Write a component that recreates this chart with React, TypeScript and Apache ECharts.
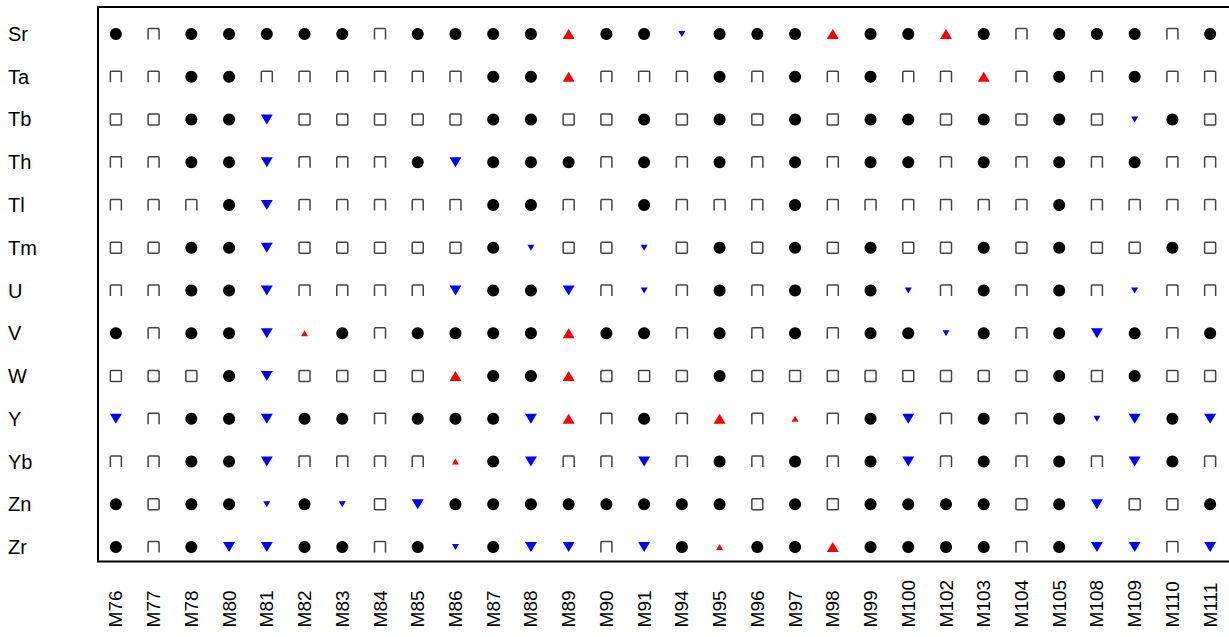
import React, { useEffect, useRef } from "react";
import * as echarts from "echarts";

const columns = ["M76","M77","M78","M80","M81","M82","M83","M84","M85","M86","M87","M88","M89","M90","M91","M94","M95","M96","M97","M98","M99","M100","M102","M103","M104","M105","M108","M109","M110","M111"];
const elements = ["Sr","Ta","Tb","Th","Tl","Tm","U","V","W","Y","Yb","Zn","Zr"];
// C = filled circle, S = open square, D = large blue down, d = small blue down, U = large red up, u = small red up
const cells = [
  "CSCCCCCSCCCCUCCdCCCUCCUCSCCCSC", // Sr
  "SSCCSSSSSSCCUSSSCSCSCSSUSCSCSS", // Ta
  "SSCCDSSSSSCCSSCSCSCSCCSCSCSdCS", // Tb
  "SSCCDSSSCDCCCSCSCSCSCCSCSCSCSS", // Th
  "SSSCDSSSSSCCSSCSSSCSSSSSSCSSSS", // Tl
  "SSCCDSSSSSCdSSdSCSCSCSSCSCSSCS", // Tm
  "SSCCDSSSSDCCDSdSCSCSCdSCSCSdSS", // U
  "CSCCDuCSCCCCUCCSCSCSCCdCSCDCSC", // V
  "SSSCDSSSSUCCUSSSCSSSSSSSSCSCSS", // W
  "DSCCDCCSCCCDUSCSUSuSCDSCSCdDCD", // Y
  "SSCCDSSSSuCDSSDSCSCSCDSCSCSDCS", // Yb
  "CSCCdCdSDCCCCCCCCSCSCCCCSCDSSC", // Zn
  "CSCDDCCSCdCDDSDCuCCUCCCCSCDDSD", // Zr
];

export default function App() {
  const ref = useRef<HTMLDivElement>(null);
  useEffect(() => {
    document.body.style.margin = "0";
    const chart = echarts.init(ref.current!, null, { renderer: "svg" });
    const buckets: Record<string, any[]> = { C: [], S: [], F: [], D: [], d: [], U: [], u: [] };
    cells.forEach((row, j) => {
      row.split("").forEach((code, i) => {
        let k = code;
        if (code === "S" && j % 3 === 2) k = "F";
        buckets[k].push([columns[i], elements[j]]);
      });
    });
    const capPath = "path://M0,11 L0,1 Q0,0 1,0 L10,0 Q11,0 11,1 L11,11";
    const boxPath = "path://M1,0 L10,0 Q11,0 11,1 L11,10 Q11,11 10,11 L1,11 Q0,11 0,10 L0,1 Q0,0 1,0 Z";
    const mk = (name: string, data: any[], symbol: string, size: any, rot: number, style: any) => ({
      type: "scatter",
      name,
      data,
      symbol,
      symbolSize: size,
      symbolRotate: rot,
      itemStyle: { opacity: 1, ...style },
      silent: true,
    });
    const sq = { color: "transparent", borderColor: "#444", borderWidth: 1.5 };
    chart.setOption({
      animation: false,
      textStyle: { fontFamily: "Liberation Sans, Arial, sans-serif" },
      grid: { left: 97, top: 12.6, width: 1136, height: 555.8, containLabel: false },
      xAxis: {
        type: "category",
        data: columns,
        axisLine: { show: false },
        axisTick: { show: false },
        splitLine: { show: false },
        axisLabel: { rotate: 90, align: "left", margin: 59, fontSize: 19, color: "#000", interval: 0, fontWeight: "normal" },
      },
      yAxis: {
        type: "category",
        data: elements,
        inverse: true,
        axisLine: { show: false },
        axisTick: { show: false },
        splitLine: { show: false },
        axisLabel: { align: "left", margin: 89, fontSize: 20, color: "#000", interval: 0, fontWeight: "normal" },
      },
      graphic: [
        {
          type: "rect",
          shape: { x: 98, y: 7, width: 1150, height: 554.5 },
          style: { fill: "none", stroke: "#000", lineWidth: 2 },
          silent: true,
        },
      ],
      series: [
        mk("circle", buckets.C, "circle", 12, 0, { color: "#000" }),
        mk("open", buckets.S, capPath, [11, 11], 0, sq),
        mk("openFull", buckets.F, boxPath, [11, 11], 0, sq),
        mk("downLarge", buckets.D, "triangle", [12, 10], 180, { color: "#0000ff" }),
        mk("downSmall", buckets.d, "triangle", [7, 6], 180, { color: "#0000ff" }),
        mk("upLarge", buckets.U, "triangle", [12, 10], 0, { color: "#ff0000" }),
        mk("upSmall", buckets.u, "triangle", [7, 6], 0, { color: "#ff0000" }),
      ],
    });
    return () => chart.dispose();
  }, []);
  return <div ref={ref} style={{ width: 1229, height: 637 }} />;
}
